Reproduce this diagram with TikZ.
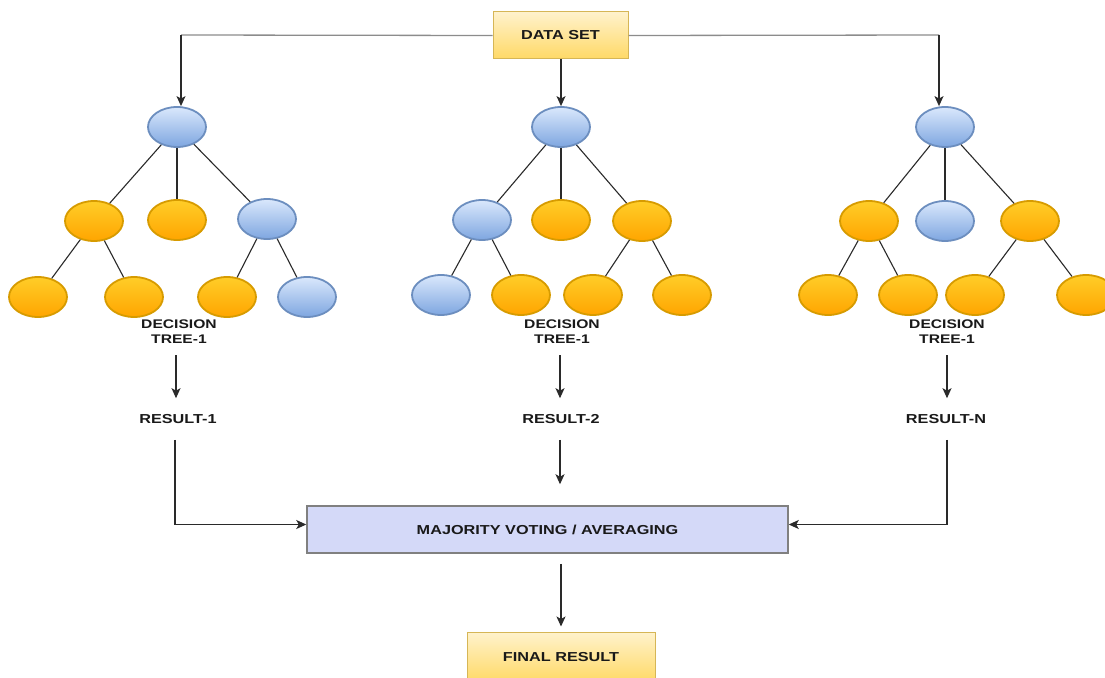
\documentclass[tikz,border=0pt]{standalone}
\usepackage{fontspec}
\setmainfont{Liberation Sans}[FakeStretch=1.25]
\usetikzlibrary{shapes.geometric,arrows.meta}
\definecolor{orstroke}{HTML}{D79B00}
\definecolor{ortop}{HTML}{FFCD28}
\definecolor{orbot}{HTML}{FFA500}
\definecolor{blstroke}{HTML}{6C8EBF}
\definecolor{bltop}{HTML}{DAE8FC}
\definecolor{blbot}{HTML}{7EA6E0}
\definecolor{yetop}{HTML}{FFF2CC}
\definecolor{yebot}{HTML}{FFD966}
\definecolor{yestroke}{HTML}{D6B656}
\definecolor{majfill}{HTML}{D4D9F8}
\definecolor{majstroke}{HTML}{808080}
\definecolor{ln}{HTML}{2A2A2A}
\tikzset{
  onode/.style={ellipse, minimum width=58pt, minimum height=40pt, inner sep=0pt,
    draw=orstroke, line width=1.8pt, top color=ortop, bottom color=orbot},
  bnode/.style={ellipse, minimum width=58pt, minimum height=40pt, inner sep=0pt,
    draw=blstroke, line width=1.8pt, top color=bltop, bottom color=blbot},
  ybox/.style={rectangle, draw=yestroke, line width=1pt, top color=yetop, bottom color=yebot,
    inner sep=0pt, font=\fontsize{13}{15}\selectfont\bfseries, text=black!90},
  mbox/.style={rectangle, draw=majstroke, line width=1.5pt, fill=majfill,
    inner sep=0pt, font=\fontsize{13}{15}\selectfont\bfseries, text=black!90},
  lbl/.style={inner sep=0pt, font=\fontsize{13}{15}\selectfont\bfseries, text=black!90},
  dlbl/.style={inner sep=0pt, align=center, font=\fontsize{12.5}{15}\selectfont\bfseries, text=black!90},
  edge/.style={draw=ln, line width=1.1pt},
  arr/.style={draw=ln, line width=1.2pt, -{Stealth[length=10pt,width=9pt,inset=2.5pt]}},
  garr/.style={draw=black!45, line width=1.3pt},
}
\begin{document}
\begin{tikzpicture}[x=1pt,y=-1pt]
\useasboundingbox (0,0) rectangle (1105,677);
\fill[white] (0,0) rectangle (1105,677);

% boxes
\node[ybox, minimum width=135pt, minimum height=47pt] (ds) at (560.5,35.5) {DATA SET};
\node[mbox, minimum width=481pt, minimum height=47pt] (maj) at (547.5,529.5) {MAJORITY VOTING / AVERAGING};
\node[ybox, minimum width=188pt, minimum height=50pt] (fin) at (561,657) {};
\node[lbl] (fint) at (561,657) {FINAL RESULT};

% tree 1
\node[bnode] (r1) at (177,127) {};
\node[onode] (a1) at (94,221) {};
\node[onode] (b1) at (177,220) {};
\node[bnode] (c1) at (267,219) {};
\node[onode] (a1l) at (38,297) {};
\node[onode] (a1r) at (134,297) {};
\node[onode] (c1l) at (227,297) {};
\node[bnode] (c1r) at (307,297) {};

% tree 2
\node[bnode] (r2) at (561,127) {};
\node[bnode] (a2) at (482,220) {};
\node[onode] (b2) at (561,220) {};
\node[onode] (c2) at (642,221) {};
\node[bnode] (a2l) at (441,295) {};
\node[onode] (a2r) at (521,295) {};
\node[onode] (c2l) at (593,295) {};
\node[onode] (c2r) at (682,295) {};

% tree 3
\node[bnode] (r3) at (945,127) {};
\node[onode] (a3) at (869,221) {};
\node[bnode] (b3) at (945,221) {};
\node[onode] (c3) at (1030,221) {};
\node[onode] (a3l) at (828,295) {};
\node[onode] (a3r) at (908,295) {};
\node[onode] (c3l) at (975,295) {};
\node[onode] (c3r) at (1086,295) {};

% tree edges
\foreach \t in {1,2,3}{
  \draw[edge] (r\t) -- (a\t);
  \draw[edge] (r\t) -- (b\t);
  \draw[edge] (r\t) -- (c\t);
  \draw[edge] (a\t) -- (a\t l);
  \draw[edge] (a\t) -- (a\t r);
  \draw[edge] (c\t) -- (c\t l);
  \draw[edge] (c\t) -- (c\t r);
}

% labels
\node[dlbl] (d1) at (179,332) {DECISION\\TREE-1};
\node[dlbl] (d2) at (562,332) {DECISION\\TREE-1};
\node[dlbl] (d3) at (947,332) {DECISION\\TREE-1};
\node[lbl] (s1) at (178,419) {RESULT-1};
\node[lbl] (s2) at (561,419) {RESULT-2};
\node[lbl] (s3) at (946,419) {RESULT-N};

% data set connectors
\coordinate (k1) at (181,35);
\coordinate (k3) at (939,35);
\draw[garr] (ds.west) -- (k1);
\draw[garr] (ds.east) -- (k3);
\draw[arr] (k1) -- (k1 |- r1.north);
\draw[arr] (k3) -- (k3 |- r3.north);
\draw[arr] (ds.south -| r2) -- (r2.north);

% decision -> result
\draw[arr, shorten <=11pt, shorten >=16pt] (d1.south -| 176,0) -- (s1.north -| 176,0);
\draw[arr, shorten <=11pt, shorten >=16pt] (d2.south -| 560,0) -- (s2.north -| 560,0);
\draw[arr, shorten <=11pt, shorten >=16pt] (d3.south -| 947,0) -- (s3.north -| 947,0);

% result -> majority
\draw[arr, shorten <=16pt] (s1.south -| 175,0) |- ([yshift=5pt]maj.west);
\draw[arr, shorten <=16pt] (s3.south -| 947,0) |- ([yshift=5pt]maj.east);
\draw[arr, shorten <=16pt, shorten >=21pt] (s2.south -| 560,0) -- (maj.north -| 560,0);

% majority -> final
\draw[arr, shorten <=10pt, shorten >=5pt] (maj.south -| fin) -- (fin.north);
\end{tikzpicture}
\end{document}
